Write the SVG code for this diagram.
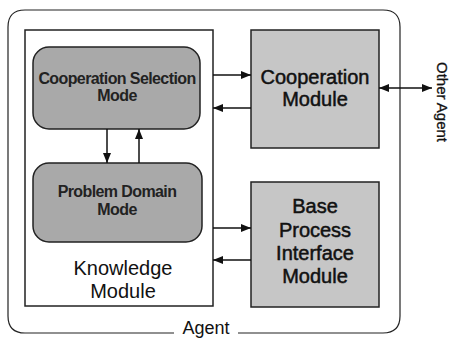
<svg xmlns="http://www.w3.org/2000/svg" width="451" height="339" viewBox="0 0 451 339">
  <defs>
    <marker id="head" viewBox="0 0 10 8" refX="10" refY="4" markerWidth="10" markerHeight="8" markerUnits="userSpaceOnUse" orient="auto-start-reverse">
      <path d="M0,0 L10,4 L0,8 Z" fill="#111"/>
    </marker>
  </defs>
  <style>
    .frame { fill: none; stroke: #222; stroke-width: 1.2; }
    .mode { fill: #a9a9a9; stroke: #222; stroke-width: 1.5; }
    .module { fill: #c6c6c6; stroke: #222; stroke-width: 1.5; }
    .plain { fill: #fff; stroke: #222; stroke-width: 1.5; }
    .link { fill: none; stroke: #111; stroke-width: 1.5; }
    text { font-family: "Liberation Sans", Arial, sans-serif; fill: #111; text-anchor: middle; }
    .big { font-size: 20px; }
    .heavy { stroke: #111; stroke-width: 0.5; }
    .small { font-size: 16px; font-weight: bold; letter-spacing: -0.6px; fill: #222; }
  </style>
  <rect width="451" height="339" fill="#fff"/>

  <!-- Agent boundary, broken at the bottom for its label -->
  <g id="agent">
    <path class="frame" d="M174,333 H25 Q8,333 8,316 V27 Q8,10 25,10 H383 Q400,10 400,27 V316 Q400,333 383,333 H238"/>
    <text class="big" style="font-size:18px" x="206" y="334">Agent</text>
  </g>

  <g id="knowledge-module">
    <rect class="plain" x="25" y="30" width="188" height="276"/>
    <text class="big" x="123" y="275">Knowledge</text>
    <text class="big" x="123" y="298">Module</text>
  </g>

  <g id="cooperation-selection-mode">
    <rect class="mode" x="33" y="47" width="167" height="82" rx="16" ry="16"/>
    <text class="small" x="117" y="84">Cooperation Selection</text>
    <text class="small" x="117" y="101">Mode</text>
  </g>

  <g id="problem-domain-mode">
    <rect class="mode" x="33" y="163" width="169" height="79" rx="16" ry="16"/>
    <text class="small" x="117" y="197">Problem Domain</text>
    <text class="small" x="117" y="215">Mode</text>
  </g>

  <g id="cooperation-module">
    <rect class="module" x="251" y="30" width="128" height="118"/>
    <text class="big heavy" x="315" y="84">Cooperation</text>
    <text class="big heavy" x="315" y="106">Module</text>
  </g>

  <g id="base-process-interface-module">
    <rect class="module" x="251" y="182" width="128" height="125"/>
    <text class="big heavy" x="315" y="213">Base</text>
    <text class="big heavy" x="315" y="237">Process</text>
    <text class="big heavy" x="315" y="260">Interface</text>
    <text class="big heavy" x="315" y="283">Module</text>
  </g>

  <g id="other-agent">
    <text class="heavy" style="font-size:15px;stroke-width:0.3" transform="translate(437,102) rotate(90)">Other Agent</text>
  </g>

  <g id="connectors">
    <line class="link" x1="107" y1="129" x2="107" y2="163" marker-end="url(#head)"/>
    <line class="link" x1="139" y1="163" x2="139" y2="129" marker-end="url(#head)"/>
    <line class="link" x1="213" y1="75" x2="251" y2="75" marker-end="url(#head)"/>
    <line class="link" x1="251" y1="108" x2="213" y2="108" marker-end="url(#head)"/>
    <line class="link" x1="213" y1="228" x2="251" y2="228" marker-end="url(#head)"/>
    <line class="link" x1="251" y1="260" x2="213" y2="260" marker-end="url(#head)"/>
    <line class="link" x1="379" y1="88" x2="432" y2="88" marker-start="url(#head)" marker-end="url(#head)"/>
  </g>
</svg>
